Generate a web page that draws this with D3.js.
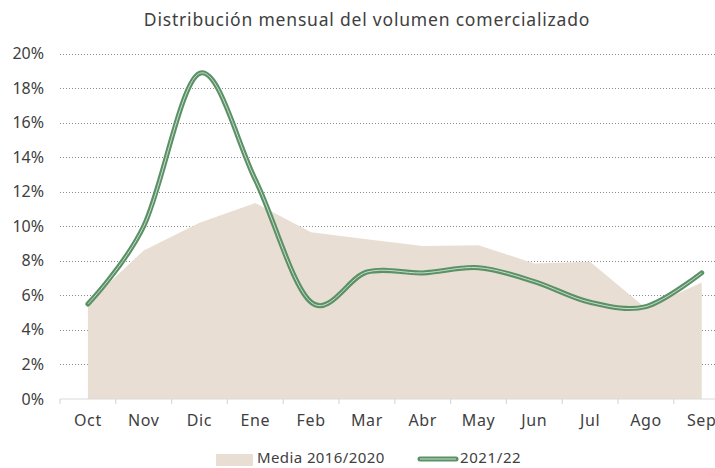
<!DOCTYPE html>
<html>
<head>
<meta charset="utf-8">
<script src="https://cdn.jsdelivr.net/npm/d3@7"></script>
<style>
  body { margin: 0; background: #fff; }
  svg { display: block; font-family: "Century Gothic", "Noto Sans", sans-serif; }
</style>
</head>
<body>
<svg id="chart" width="715" height="468"></svg>
<script>
// datos
var months = ["Oct", "Nov", "Dic", "Ene", "Feb", "Mar", "Abr", "May", "Jun", "Jul", "Ago", "Sep"];
var media = [5.55, 8.6, 10.2, 11.35, 9.65, 9.25, 8.85, 8.9, 7.85, 7.95, 5.25, 6.75];
var campaign = [5.5, 10.0, 18.85, 12.7, 5.6, 7.35, 7.3, 7.6, 6.8, 5.6, 5.35, 7.3];
var yTicks = [0, 2, 4, 6, 8, 10, 12, 14, 16, 18, 20];

var svg = d3.select("#chart");
var left = 60, step = 55.8;

var x = d3.scaleBand()
  .domain(months)
  .range([left, left + step * months.length]);

var y = d3.scaleLinear()
  .domain([0, 20])
  .range([399, 53.5]);

var cx = function (d, i) { return x(months[i]) + x.bandwidth() / 2; };

// title
svg.append("text")
  .attr("x", 367).attr("y", 26)
  .attr("text-anchor", "middle")
  .attr("font-size", 17.5)
  .attr("letter-spacing", 0.8)
  .attr("fill", "#404040")
  .text("Distribución  mensual del volumen comercializado");

// gridlines (dotted)
svg.append("g")
  .selectAll("line")
  .data(yTicks.filter(function (d) { return d > 0; }))
  .enter().append("line")
  .attr("x1", left).attr("x2", 715)
  .attr("y1", function (d) { return Math.round(y(d)) + 0.5; })
  .attr("y2", function (d) { return Math.round(y(d)) + 0.5; })
  .attr("stroke", "#8c8c8c")
  .attr("stroke-width", 1)
  .attr("stroke-dasharray", "1,2");

// area Media 2016/2020
var area = d3.area()
  .x(cx)
  .y0(y(0))
  .y1(function (d) { return y(d); });

svg.append("path")
  .datum(media)
  .attr("d", area)
  .attr("fill", "#e8ded3");

// x axis
var xAxis = svg.append("g")
  .attr("transform", "translate(0," + y(0) + ")");
xAxis.append("line")
  .attr("x1", left).attr("x2", 715)
  .attr("stroke", "#d9d9d9").attr("stroke-width", 1.2);
xAxis.selectAll("line.tick")
  .data(months)
  .enter().append("line")
  .attr("class", "tick")
  .attr("x1", function (d) { return x(d); })
  .attr("x2", function (d) { return x(d); })
  .attr("y1", 0).attr("y2", 5)
  .attr("stroke", "#d9d9d9").attr("stroke-width", 1.2);
xAxis.selectAll("text")
  .data(months)
  .enter().append("text")
  .attr("x", function (d) { return x(d) + x.bandwidth() / 2; })
  .attr("y", 27)
  .attr("text-anchor", "middle")
  .attr("font-size", 16)
  .attr("letter-spacing", 0.6)
  .attr("fill", "#404040")
  .text(function (d) { return d; });

// y axis labels
svg.append("g")
  .selectAll("text")
  .data(yTicks)
  .enter().append("text")
  .attr("x", 44)
  .attr("y", function (d) { return y(d) + 5.5; })
  .attr("text-anchor", "end")
  .attr("font-size", 16)
  .attr("fill", "#404040")
  .text(function (d) { return d + "%"; });

// line 2021/22 (double line)
var line = d3.line()
  .x(cx)
  .y(function (d) { return y(d); })
  .curve(d3.curveCatmullRom.alpha(0));

svg.append("path")
  .datum(campaign)
  .attr("d", line)
  .attr("fill", "none")
  .attr("stroke", "#5b9166")
  .attr("stroke-width", 5)
  .attr("stroke-linecap", "round");
svg.append("path")
  .datum(campaign)
  .attr("d", line)
  .attr("fill", "none")
  .attr("stroke", "#c9dccb")
  .attr("stroke-width", 1);

// legend
var leg = svg.append("g");
leg.append("rect")
  .attr("x", 216).attr("y", 454)
  .attr("width", 37).attr("height", 12)
  .attr("fill", "#e8ded3");
leg.append("text")
  .attr("x", 257).attr("y", 463)
  .attr("font-size", 15)
  .attr("letter-spacing", 0.4)
  .attr("dominant-baseline", "auto")
  .attr("fill", "#404040")
  .text("Media 2016/2020");
leg.append("line")
  .attr("x1", 420).attr("x2", 456)
  .attr("y1", 459).attr("y2", 459)
  .attr("stroke", "#5b9166").attr("stroke-width", 5)
  .attr("stroke-linecap", "round");
leg.append("line")
  .attr("x1", 420).attr("x2", 456)
  .attr("y1", 459).attr("y2", 459)
  .attr("stroke", "#c9dccb").attr("stroke-width", 1);
leg.append("text")
  .attr("x", 460).attr("y", 463)
  .attr("font-size", 15)
  .attr("letter-spacing", 0.6)
  .attr("fill", "#404040")
  .text("2021/22");
</script>
</body>
</html>
